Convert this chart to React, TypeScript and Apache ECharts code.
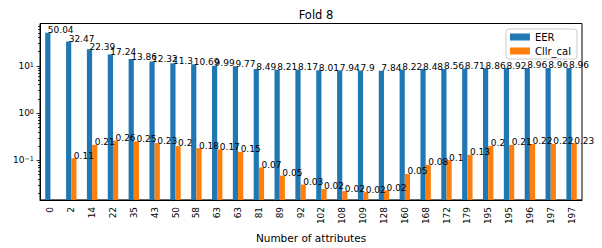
import React, { useEffect, useRef } from 'react';
import * as echarts from 'echarts';

const categories = ['0', '2', '14', '22', '35', '43', '50', '58', '63', '63', '81', '89', '92', '102', '108', '109', '128', '160', '168', '172', '179', '195', '195', '196', '197', '197'];
const eer = [50.04, 32.47, 22.39, 17.24, 13.86, 12.32, 11.3, 10.69, 9.99, 9.77, 8.49, 8.21, 8.17, 8.01, 7.94, 7.9, 7.84, 8.22, 8.48, 8.56, 8.71, 8.86, 8.92, 8.96, 8.96, 8.96];
const cllrCal = [null, 0.11, 0.21, 0.26, 0.25, 0.23, 0.2, 0.18, 0.17, 0.15, 0.07, 0.047, 0.0303, 0.0246, 0.022, 0.021, 0.023, 0.051, 0.08, 0.1, 0.13, 0.2, 0.21, 0.22, 0.22, 0.23];
const majorTicks = [0.1, 1, 10];
const minorTicks = [0.02, 0.03, 0.04, 0.05, 0.06, 0.07, 0.08, 0.09, 0.2, 0.3, 0.4, 0.5, 0.6, 0.7, 0.8, 0.9, 2, 3, 4, 5, 6, 7, 8, 9, 20, 30, 40, 50, 60, 70];
const yMin = 0.01436;
const yMax = 78.3;

const FONT = 'DejaVu Sans';

export default function App() {
  const ref = useRef<HTMLDivElement>(null);
  useEffect(() => {
    document.body.style.margin = '0';
    const chart = echarts.init(ref.current!, null, { renderer: 'svg' });
    const fmt = (p: any) => (p.value == null ? '' : String(Math.round(p.value * 100) / 100));
    const barLabel = {
      show: true,
      position: 'top',
      align: 'left',
      distance: 0,
      offset: [0, 2],
      fontSize: 9,
      color: '#000',
      fontFamily: FONT,
      formatter: fmt,
    };
    const tickData = majorTicks.map((v) => [0, v, 3.5]).concat(minorTicks.map((v) => [0, v, 2]));
    chart.setOption({
      animation: false,
      textStyle: { fontFamily: FONT },
      title: {
        text: 'Fold 8',
        left: 311,
        top: 4,
        textAlign: 'center',
        textStyle: { fontSize: 11.5, fontWeight: 'normal', color: '#000', fontFamily: FONT },
      },
      legend: {
        orient: 'vertical',
        right: 25,
        top: 29,
        itemWidth: 20,
        itemHeight: 7,
        itemGap: 4,
        icon: 'rect',
        padding: [3, 6, 3, 4],
        borderColor: '#cccccc',
        borderWidth: 1,
        borderRadius: 3,
        backgroundColor: 'rgba(255,255,255,0.8)',
        textStyle: { fontSize: 10, color: '#000', fontFamily: FONT },
        data: ['EER', 'Cllr_cal'],
      },
      grid: {
        left: 40,
        right: 20,
        top: 23.5,
        bottom: 44,
        show: true,
        borderColor: '#000',
        borderWidth: 1,
      },
      xAxis: {
        type: 'category',
        data: categories,
        axisLine: { lineStyle: { color: '#000', width: 1 } },
        axisTick: { alignWithLabel: true, length: 3.5, lineStyle: { color: '#000' } },
        axisLabel: { rotate: 90, fontSize: 9, color: '#000', margin: 7, interval: 0, fontFamily: FONT },
        name: 'Number of attributes',
        nameLocation: 'middle',
        nameGap: 30,
        nameTextStyle: { fontSize: 10.5, color: '#000', fontFamily: FONT },
      },
      yAxis: {
        type: 'log',
        logBase: 10,
        min: yMin,
        max: yMax,
        startValue: yMin,
        splitLine: { show: false },
        axisLine: { show: true, lineStyle: { color: '#000', width: 1 } },
        axisTick: { show: false },
        axisLabel: {
          margin: 6,
          color: '#000',
          formatter: (v: number) => {
            const l = Math.log10(v);
            const e = Math.round(l);
            if (Math.abs(l - e) > 1e-6) return '';
            const s = e < 0 ? '\u2212' + -e : String(e);
            return `{b|10}{s|${s}}`;
          },
          rich: {
            b: { fontSize: 9, color: '#000', fontFamily: FONT, verticalAlign: 'bottom' },
            s: { fontSize: 6.5, color: '#000', fontFamily: FONT, verticalAlign: 'top' },
          },
        },
      },
      series: [
        {
          name: 'EER',
          type: 'bar',
          data: eer,
          barWidth: 5.2,
          barGap: '0%',
          itemStyle: { color: '#1f77b4' },
          label: barLabel,
        },
        {
          name: 'Cllr_cal',
          type: 'bar',
          data: cllrCal,
          barWidth: 5.2,
          barGap: '0%',
          itemStyle: { color: '#ff7f0e' },
          label: barLabel,
        },
        {
          type: 'custom',
          silent: true,
          clip: false,
          z: 10,
          data: tickData,
          encode: { x: 0, y: 1 },
          renderItem: (params: any, api: any) => {
            const y = Math.round(api.coord([0, api.value(1)])[1]) + 0.5;
            const x0 = params.coordSys.x;
            const len = api.value(2);
            return {
              type: 'line',
              shape: { x1: x0 - len, y1: y, x2: x0, y2: y },
              style: { stroke: '#000', lineWidth: 0.8 },
            };
          },
        },
      ],
    });
    return () => chart.dispose();
  }, []);
  return <div ref={ref} style={{ width: 602, height: 248 }} />;
}
